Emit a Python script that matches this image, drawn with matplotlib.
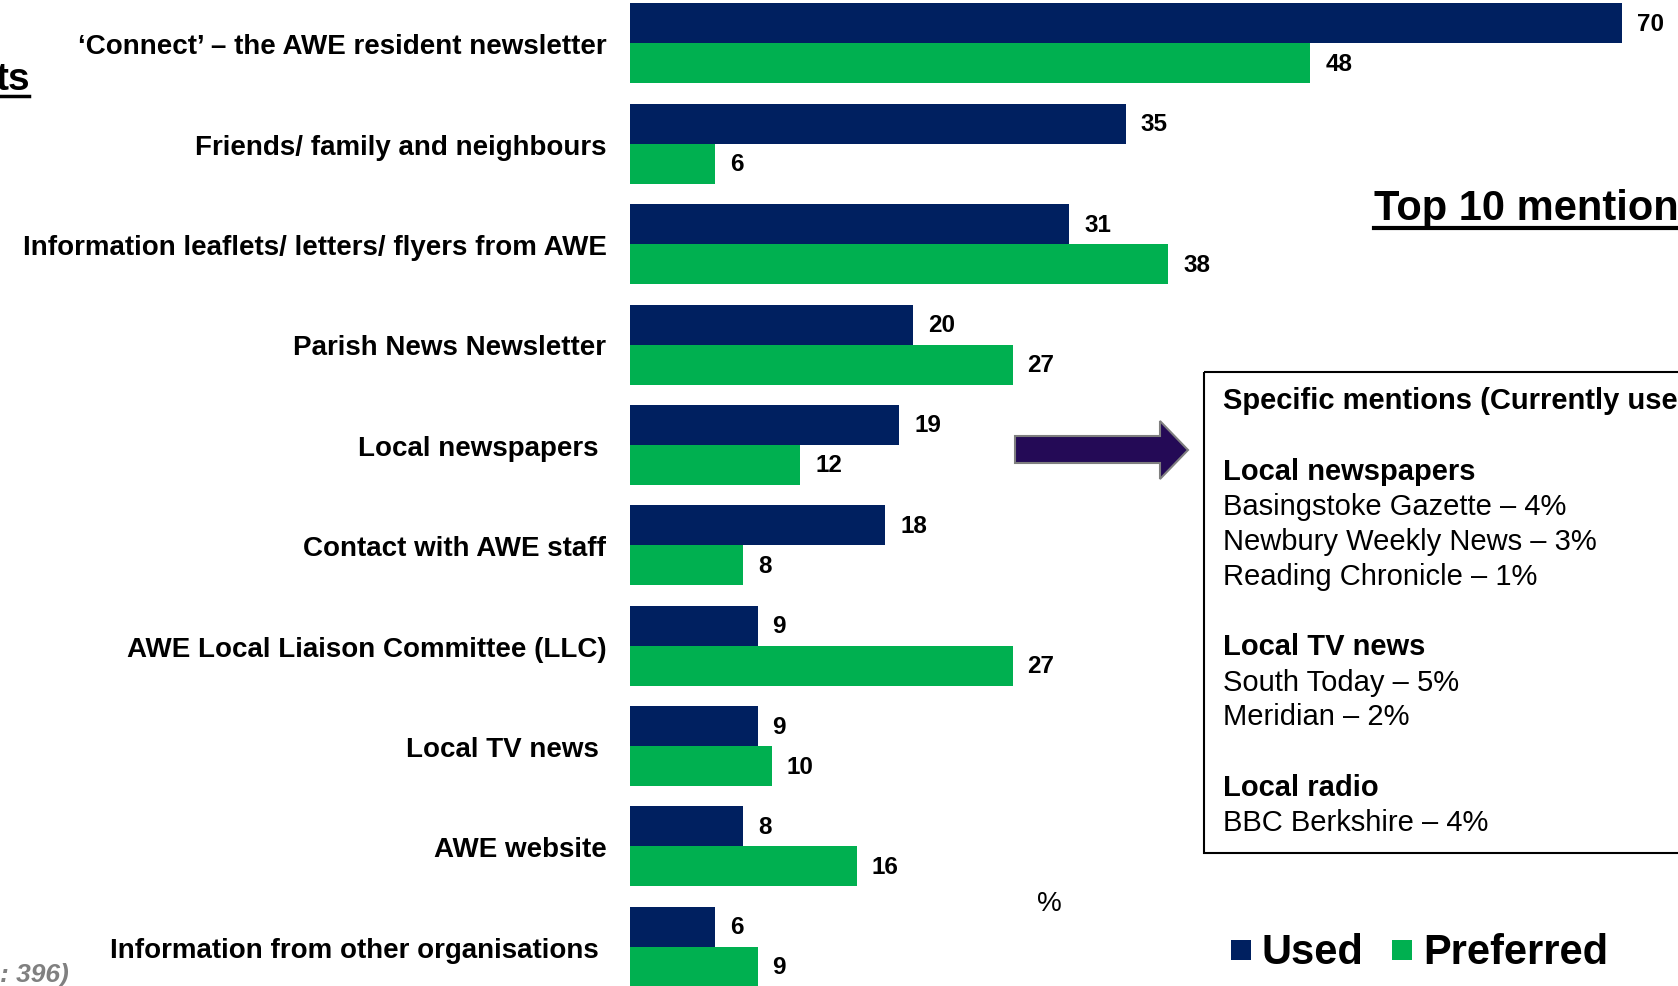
import numpy as np
import matplotlib.pyplot as plt
from matplotlib.patches import Rectangle, Polygon

plt.rcParams['font.family'] = ['Liberation Sans', 'DejaVu Sans']

# data (%)
categories = [
    '\u2018Connect\u2019 \u2013 the AWE resident newsletter',
    'Friends/ family and neighbours',
    'Information leaflets/ letters/ flyers from AWE',
    'Parish News Newsletter',
    'Local newspapers ',
    'Contact with AWE staff',
    'AWE Local Liaison Committee (LLC)',
    'Local TV news ',
    'AWE website',
    'Information from other organisations ',
]
used = [70, 35, 31, 20, 19, 18, 9, 9, 8, 6]
preferred = [48, 6, 38, 27, 12, 8, 27, 10, 16, 9]

box_lines = [
    ('Specific mentions (Currently used)', 'bold', 401),
    ('Local newspapers', 'bold', 472),
    ('Basingstoke Gazette \u2013 4%', 'normal', 507),
    ('Newbury Weekly News \u2013 3%', 'normal', 542),
    ('Reading Chronicle \u2013 1%', 'normal', 577),
    ('Local TV news', 'bold', 647),
    ('South Today \u2013 5%', 'normal', 683),
    ('Meridian \u2013 2%', 'normal', 717),
    ('Local radio', 'bold', 788),
    ('BBC Berkshire \u2013 4%', 'normal', 823),
]

navy = '#002060'
green = '#00B050'

W, H = 1678, 987
fig = plt.figure(figsize=(W / 100, H / 100), dpi=100)

# bar axes: x=0 at pixel 630, 14.17 px per unit
x0_px = 630
px_per_unit = 14.17
ax = fig.add_axes([x0_px / W, 0, 1 - x0_px / W, 1])
ax.set_xlim(0, (W - x0_px) / px_per_unit)
pitch = 100.4
ax.set_ylim((H - 44.3) / pitch, -44.3 / pitch)

y = np.arange(len(categories))
h = 40 / pitch
ax.barh(y - h / 2, used, height=h, color=navy, label='Used')
ax.barh(y + h / 2, preferred, height=h, color=green, label='Preferred')

off = 15 / px_per_unit
for i in range(len(categories)):
    ax.text(used[i] + off, y[i] - h / 2, str(used[i]), ha='left', va='center',
            fontsize=17.5, fontweight='bold')
    ax.text(preferred[i] + off, y[i] + h / 2, str(preferred[i]), ha='left', va='center',
            fontsize=17.5, fontweight='bold')

ax.set_yticks(y)
ax.set_yticklabels(categories, fontsize=20, fontweight='bold')
ax.tick_params(axis='y', length=0, pad=17)
ax.set_xticks([])
for s in ax.spines.values():
    s.set_visible(False)

# overlay in pixel coordinates for the slide annotations
ov = fig.add_axes([0, 0, 1, 1], zorder=3)
ov.set_xlim(0, W)
ov.set_ylim(H, 0)
ov.axis('off')
ov.patch.set_alpha(0)

# clipped slide title at far left
ov.text(30, 80, 'ts', ha='right', va='center', fontsize=28, fontweight='bold')
ov.plot([-5, 29], [97, 97], color='black', lw=2.5)

ov.text(1374, 209, 'Top 10 mentions', ha='left', va='center', fontsize=30, fontweight='bold')
ov.plot([1374, W + 5], [229, 229], color='black', lw=3)

ov.text(0, 975, ': 396)', ha='left', va='center', fontsize=19, fontweight='bold',
        style='italic', color='#808080')

ov.text(1049, 904, '%', ha='center', va='center', fontsize=20)

# arrow
arrow = Polygon([[1015, 437], [1160, 437], [1160, 422], [1188, 451], [1160, 480],
                 [1160, 464], [1015, 464]], closed=True, facecolor='#240A56',
                edgecolor='#7f7f7f', lw=1.5)
ov.add_patch(arrow)

# mention box
ov.add_patch(Rectangle((1204, 373), 600, 481, facecolor='none', edgecolor='black', lw=1.5))
for txt, wt, yy in box_lines:
    ov.text(1223, yy, txt, ha='left', va='center', fontsize=21, fontweight=wt)

# legend
ov.add_patch(Rectangle((1231, 941), 20, 20, facecolor=navy, edgecolor='none'))
ov.text(1261, 953, 'Used', ha='left', va='center', fontsize=30, fontweight='bold')
ov.add_patch(Rectangle((1392, 941), 20, 20, facecolor=green, edgecolor='none'))
ov.text(1423, 953, 'Preferred', ha='left', va='center', fontsize=30, fontweight='bold')

fig.savefig('out.png', dpi=100)
